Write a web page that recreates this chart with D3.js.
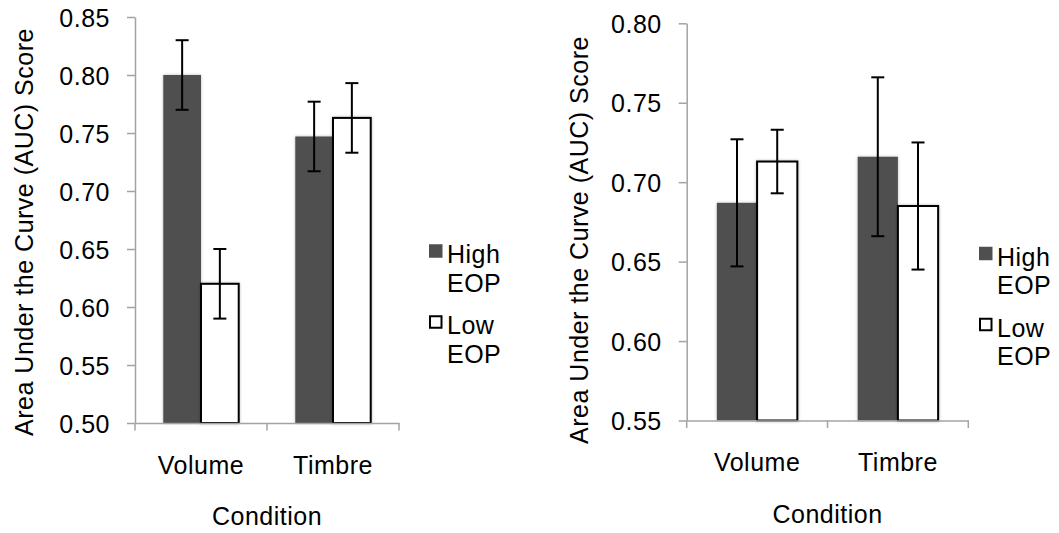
<!DOCTYPE html>
<html>
<head>
<meta charset="utf-8">
<script src="https://cdn.jsdelivr.net/npm/d3@7"></script>
<style>
  body { margin: 0; background: #fff; }
  svg text { font-family: "Liberation Sans", Arial, Helvetica, sans-serif; font-size: 25px; letter-spacing: 0.5px; fill: #000; }
</style>
</head>
<body>
<svg id="chart" width="1059" height="533"></svg>
<script>
// Shared categories and series
const categories = ["Volume", "Timbre"];
const seriesNames = ["High EOP", "Low EOP"];
const legendLines = [["High", "EOP"], ["Low", "EOP"]];
const yTitle = "Area Under the Curve (AUC) Score";
const xTitle = "Condition";

// First panel: AUC means and error half-widths
const leftHigh = [0.800, 0.747];
const leftLow = [0.620, 0.763];
const leftHighErr = [0.030, 0.030];
const leftLowErr = [0.030, 0.030];
const leftTicks = [0.50, 0.55, 0.60, 0.65, 0.70, 0.75, 0.80, 0.85];

// Second panel
const rightHigh = [0.687, 0.716];
const rightLow = [0.713, 0.685];
const rightHighErr = [0.040, 0.050];
const rightLowErr = [0.020, 0.040];
const rightTicks = [0.55, 0.60, 0.65, 0.70, 0.75, 0.80];

const svg = d3.select("#chart");

// soft glow behind the bars
const defs = svg.append("defs");
const f = defs.append("filter").attr("id", "barShadow")
  .attr("x", "-20%").attr("y", "-5%").attr("width", "140%").attr("height", "110%");
f.append("feDropShadow").attr("dx", 0).attr("dy", 0).attr("stdDeviation", 1.8)
  .attr("flood-color", "#000").attr("flood-opacity", 0.28);

const fills = ["#4f4f4f", "#ffffff"];
const axisColor = "#a3a3a3";

function drawPanel(cfg) {
  const g = svg.append("g");
  const y = d3.scaleLinear().domain([cfg.ticks[0], cfg.ticks[cfg.ticks.length - 1]])
    .range([cfg.bottom, cfg.top]);
  const x0 = d3.scaleBand().domain(categories).range([cfg.left, cfg.right]).padding(0);
  const x1 = d3.scaleBand().domain(seriesNames).range([0, x0.bandwidth()])
    .paddingInner(0).paddingOuter(0.75);

  const rows = categories.map((c, i) => ({
    cat: c,
    vals: [
      { s: seriesNames[0], v: cfg.high[i], e: cfg.highErr[i] },
      { s: seriesNames[1], v: cfg.low[i], e: cfg.lowErr[i] }
    ]
  }));

  // bars
  const groups = g.selectAll("g.cat").data(rows).join("g")
    .attr("class", "cat")
    .attr("transform", d => `translate(${x0(d.cat)},0)`);

  groups.selectAll("rect").data(d => d.vals).join("rect")
    .attr("x", d => x1(d.s))
    .attr("y", d => y(d.v))
    .attr("width", x1.bandwidth())
    .attr("height", d => y.range()[0] - y(d.v))
    .attr("fill", (d, i) => fills[i])
    .attr("stroke", (d, i) => i === 0 ? "none" : "#000")
    .attr("stroke-width", 2)
    .attr("filter", "url(#barShadow)");

  // error bars
  const cap = 6.5;
  const eb = groups.selectAll("g.err").data(d => d.vals).join("g").attr("class", "err")
    .attr("stroke", "#000").attr("stroke-width", 2);
  eb.append("line")
    .attr("x1", d => x1(d.s) + x1.bandwidth() / 2)
    .attr("x2", d => x1(d.s) + x1.bandwidth() / 2)
    .attr("y1", d => y(d.v + d.e)).attr("y2", d => y(d.v - d.e));
  eb.append("line")
    .attr("x1", d => x1(d.s) + x1.bandwidth() / 2 - cap)
    .attr("x2", d => x1(d.s) + x1.bandwidth() / 2 + cap)
    .attr("y1", d => y(d.v + d.e)).attr("y2", d => y(d.v + d.e));
  eb.append("line")
    .attr("x1", d => x1(d.s) + x1.bandwidth() / 2 - cap)
    .attr("x2", d => x1(d.s) + x1.bandwidth() / 2 + cap)
    .attr("y1", d => y(d.v - d.e)).attr("y2", d => y(d.v - d.e));

  // y axis
  const ya = g.append("g").attr("transform", `translate(${cfg.left},0)`)
    .call(d3.axisLeft(y).tickValues(cfg.ticks).tickSize(8).tickSizeOuter(0)
      .tickPadding(17).tickFormat(d3.format(".2f")));
  ya.attr("font-size", null).attr("font-family", null);
  ya.select(".domain").attr("stroke", axisColor).attr("stroke-width", 1.5);
  ya.selectAll(".tick line").attr("stroke", axisColor).attr("stroke-width", 1.5);
  ya.selectAll(".tick text").attr("dy", "0.36em");

  // x axis: tick marks at category boundaries, labels at centers
  const xa = g.append("g").attr("transform", `translate(0,${cfg.bottom})`)
    .call(d3.axisBottom(x0).tickSize(0).tickSizeOuter(0).tickPadding(33));
  xa.attr("font-size", null).attr("font-family", null);
  xa.select(".domain").attr("stroke", axisColor).attr("stroke-width", 1.5);
  xa.selectAll(".tick text").attr("dy", "0.71em");
  const bounds = categories.map(c => x0(c)).concat([x0(categories[categories.length - 1]) + x0.bandwidth()]);
  xa.selectAll("line.bound").data(bounds).join("line").attr("class", "bound")
    .attr("x1", d => d).attr("x2", d => d).attr("y1", 0).attr("y2", 7.5)
    .attr("stroke", axisColor).attr("stroke-width", 1.5);

  // axis titles
  g.append("text")
    .attr("transform", `translate(${cfg.titleX},${cfg.titleY}) rotate(-90)`)
    .attr("text-anchor", "middle").text(yTitle);
  g.append("text")
    .attr("x", (cfg.left + cfg.right) / 2).attr("y", cfg.bottom + 102)
    .attr("text-anchor", "middle").text(xTitle);

  // legend
  const lg = g.append("g");
  legendLines.forEach((lines, i) => {
    const cy = cfg.legendY + i * 71;
    if (i === 0) {
      lg.append("rect").attr("x", cfg.legendX).attr("y", cy - 6.75)
        .attr("width", 13.5).attr("height", 13.5).attr("fill", fills[0]);
    } else {
      lg.append("rect").attr("x", cfg.legendX + 1).attr("y", cy - 5.75)
        .attr("width", 11.5).attr("height", 11.5).attr("fill", fills[1])
        .attr("stroke", "#000").attr("stroke-width", 2);
    }
    lines.forEach((t, j) => {
      lg.append("text").attr("x", cfg.legendX + 18).attr("y", cy + 12 + j * 28.5).text(t);
    });
  });
}

drawPanel({
  left: 135, right: 399, top: 17, bottom: 423,
  ticks: leftTicks, high: leftHigh, low: leftLow, highErr: leftHighErr, lowErr: leftLowErr,
  titleX: 33, titleY: 232, legendX: 429, legendY: 251
});

drawPanel({
  left: 686.7, right: 968.3, top: 23.3, bottom: 420.5,
  ticks: rightTicks, high: rightHigh, low: rightLow, highErr: rightHighErr, lowErr: rightLowErr,
  titleX: 588, titleY: 240, legendX: 979, legendY: 253.5
});
</script>
</body>
</html>
